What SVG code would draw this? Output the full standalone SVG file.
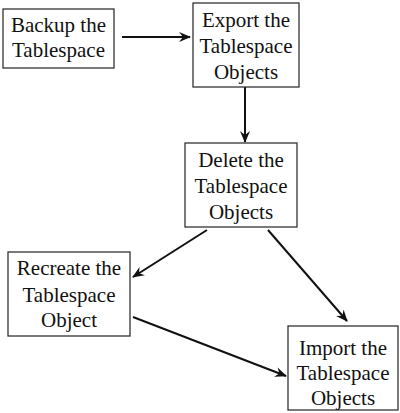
<svg xmlns="http://www.w3.org/2000/svg" width="400" height="413" viewBox="0 0 400 413">
<style>
.box{fill:#fff;stroke:#333;stroke-width:1.3}
text{font-family:"Liberation Serif","Times New Roman",serif;font-size:21px;fill:#111;text-anchor:middle}
.c{stroke:#111;stroke-width:2;fill:none;marker-end:url(#ah)}
</style>
<defs>
<marker id="ah" viewBox="0 0 12 10" refX="11" refY="5" markerWidth="12" markerHeight="10" markerUnits="userSpaceOnUse" orient="auto">
<path d="M0,0 L12,5 L0,10 L4,5 Z" fill="#111"/>
</marker>
</defs>
<rect width="400" height="413" fill="#fff"/>
<g id="connectors">
<line class="c" x1="122" y1="37" x2="190" y2="37"/>
<line class="c" x1="245" y1="87" x2="245" y2="142"/>
<line class="c" x1="207" y1="230" x2="133" y2="277"/>
<line class="c" x1="268" y1="230" x2="347" y2="321"/>
<line class="c" x1="133" y1="317" x2="286" y2="376"/>
</g>
<g id="backup">
<rect class="box" x="3" y="9" width="111" height="59"/>
<text x="58.5" y="32">Backup the</text>
<text x="58.5" y="57">Tablespace</text>
</g>
<g id="export">
<rect class="box" x="193" y="3" width="106" height="84"/>
<text x="246" y="27">Export the</text>
<text x="246" y="53">Tablespace</text>
<text x="246" y="79">Objects</text>
</g>
<g id="delete">
<rect class="box" x="185" y="143" width="112" height="84"/>
<text x="241" y="167">Delete the</text>
<text x="241" y="193">Tablespace</text>
<text x="241" y="219">Objects</text>
</g>
<g id="recreate">
<rect class="box" x="8" y="252" width="122" height="84"/>
<text x="69" y="275">Recreate the</text>
<text x="69" y="302">Tablespace</text>
<text x="69" y="327">Object</text>
</g>
<g id="import">
<rect class="box" x="288" y="326" width="110" height="84"/>
<text x="343" y="355">Import the</text>
<text x="343" y="380">Tablespace</text>
<text x="343" y="405">Objects</text>
</g>
</svg>
